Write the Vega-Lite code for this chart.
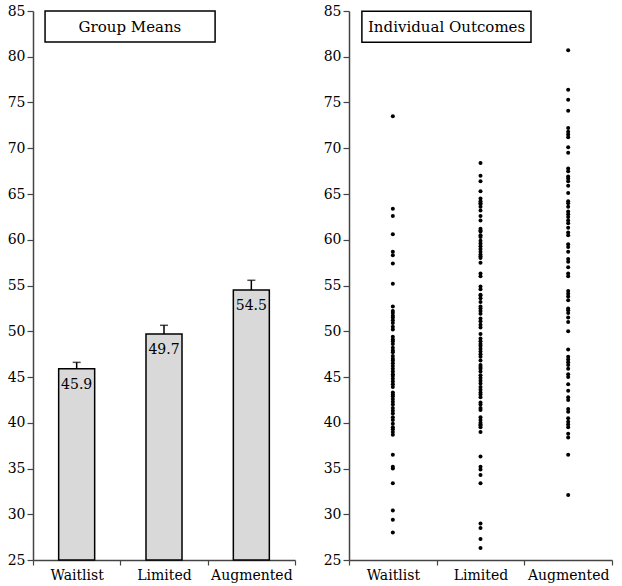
{
  "$schema": "https://vega.github.io/schema/vega-lite/v6.json",
  "padding": {"left": 7, "top": 4, "right": 5, "bottom": 5},
  "background": "white",
  "spacing": 27,
  "config": {
    "font": "DejaVu Serif",
    "view": {"stroke": null},
    "text": {"font": "DejaVu Serif"},
    "axis": {"labelFont": "DejaVu Serif", "labelFontSize": 14, "labelColor": "black", "domainColor": "#444", "domainWidth": 1.5, "tickColor": "#444", "tickWidth": 1.2, "grid": false, "title": null},
    "axisX": {"tickSize": 5, "labelPadding": 3, "labelAngle": 0, "tickBand": "extent"},
    "axisY": {"tickSize": 6, "labelPadding": 2, "values": [25, 30, 35, 40, 45, 50, 55, 60, 65, 70, 75, 80, 85]}
  },
  "datasets": {
    "means": [
      {"group": "Waitlist", "mean": 45.9, "upper": 46.6},
      {"group": "Limited", "mean": 49.7, "upper": 50.65},
      {"group": "Augmented", "mean": 54.5, "upper": 55.57}
    ],
    "points": [
      {"group": "Waitlist", "score": 73.5}, {"group": "Waitlist", "score": 63.4}, {"group": "Waitlist", "score": 62.6}, {"group": "Waitlist", "score": 60.6}, {"group": "Waitlist", "score": 58.7}, {"group": "Waitlist", "score": 58.3}, {"group": "Waitlist", "score": 57.4}, {"group": "Waitlist", "score": 55.2},
      {"group": "Waitlist", "score": 52.7}, {"group": "Waitlist", "score": 52.2}, {"group": "Waitlist", "score": 52.0}, {"group": "Waitlist", "score": 51.7}, {"group": "Waitlist", "score": 51.5}, {"group": "Waitlist", "score": 51.2}, {"group": "Waitlist", "score": 50.9}, {"group": "Waitlist", "score": 50.5}, {"group": "Waitlist", "score": 50.2}, {"group": "Waitlist", "score": 49.4}, {"group": "Waitlist", "score": 49.1}, {"group": "Waitlist", "score": 48.9}, {"group": "Waitlist", "score": 48.6}, {"group": "Waitlist", "score": 48.2}, {"group": "Waitlist", "score": 47.9}, {"group": "Waitlist", "score": 47.7}, {"group": "Waitlist", "score": 47.3}, {"group": "Waitlist", "score": 47.0}, {"group": "Waitlist", "score": 46.8}, {"group": "Waitlist", "score": 46.5}, {"group": "Waitlist", "score": 46.2}, {"group": "Waitlist", "score": 45.9}, {"group": "Waitlist", "score": 45.6}, {"group": "Waitlist", "score": 45.3}, {"group": "Waitlist", "score": 45.1}, {"group": "Waitlist", "score": 44.8}, {"group": "Waitlist", "score": 44.5}, {"group": "Waitlist", "score": 44.2}, {"group": "Waitlist", "score": 43.9}, {"group": "Waitlist", "score": 43.3}, {"group": "Waitlist", "score": 43.1}, {"group": "Waitlist", "score": 42.9}, {"group": "Waitlist", "score": 42.6}, {"group": "Waitlist", "score": 42.3}, {"group": "Waitlist", "score": 42.0}, {"group": "Waitlist", "score": 41.6}, {"group": "Waitlist", "score": 41.3}, {"group": "Waitlist", "score": 41.0}, {"group": "Waitlist", "score": 40.6}, {"group": "Waitlist", "score": 40.3}, {"group": "Waitlist", "score": 39.9}, {"group": "Waitlist", "score": 39.5}, {"group": "Waitlist", "score": 39.3}, {"group": "Waitlist", "score": 39.0}, {"group": "Waitlist", "score": 38.7},
      {"group": "Waitlist", "score": 36.5}, {"group": "Waitlist", "score": 35.2}, {"group": "Waitlist", "score": 35.0}, {"group": "Waitlist", "score": 33.4}, {"group": "Waitlist", "score": 30.4}, {"group": "Waitlist", "score": 29.4}, {"group": "Waitlist", "score": 28.0},
      {"group": "Limited", "score": 68.4}, {"group": "Limited", "score": 67.0}, {"group": "Limited", "score": 66.4}, {"group": "Limited", "score": 65.3}, {"group": "Limited", "score": 64.5}, {"group": "Limited", "score": 64.2}, {"group": "Limited", "score": 64.0}, {"group": "Limited", "score": 63.9}, {"group": "Limited", "score": 63.6}, {"group": "Limited", "score": 63.2}, {"group": "Limited", "score": 62.6}, {"group": "Limited", "score": 62.1}, {"group": "Limited", "score": 61.2}, {"group": "Limited", "score": 61.0}, {"group": "Limited", "score": 60.9}, {"group": "Limited", "score": 60.5}, {"group": "Limited", "score": 60.3}, {"group": "Limited", "score": 59.9}, {"group": "Limited", "score": 59.6}, {"group": "Limited", "score": 59.3}, {"group": "Limited", "score": 59.0}, {"group": "Limited", "score": 58.7}, {"group": "Limited", "score": 58.4}, {"group": "Limited", "score": 58.2}, {"group": "Limited", "score": 58.0}, {"group": "Limited", "score": 57.5}, {"group": "Limited", "score": 56.3}, {"group": "Limited", "score": 56.0},
      {"group": "Limited", "score": 54.9}, {"group": "Limited", "score": 54.6}, {"group": "Limited", "score": 54.0}, {"group": "Limited", "score": 53.9}, {"group": "Limited", "score": 53.6}, {"group": "Limited", "score": 53.2}, {"group": "Limited", "score": 52.7}, {"group": "Limited", "score": 52.5}, {"group": "Limited", "score": 52.2}, {"group": "Limited", "score": 51.9}, {"group": "Limited", "score": 51.4}, {"group": "Limited", "score": 51.1}, {"group": "Limited", "score": 50.7}, {"group": "Limited", "score": 50.4}, {"group": "Limited", "score": 49.7}, {"group": "Limited", "score": 49.2}, {"group": "Limited", "score": 48.9}, {"group": "Limited", "score": 48.6}, {"group": "Limited", "score": 48.4}, {"group": "Limited", "score": 48.1}, {"group": "Limited", "score": 47.8}, {"group": "Limited", "score": 47.5}, {"group": "Limited", "score": 47.2}, {"group": "Limited", "score": 46.8}, {"group": "Limited", "score": 46.3}, {"group": "Limited", "score": 46.1}, {"group": "Limited", "score": 45.9}, {"group": "Limited", "score": 45.6}, {"group": "Limited", "score": 45.2}, {"group": "Limited", "score": 44.9}, {"group": "Limited", "score": 44.6}, {"group": "Limited", "score": 44.3}, {"group": "Limited", "score": 43.9}, {"group": "Limited", "score": 43.6}, {"group": "Limited", "score": 43.3}, {"group": "Limited", "score": 43.1}, {"group": "Limited", "score": 42.8}, {"group": "Limited", "score": 42.2}, {"group": "Limited", "score": 42.0}, {"group": "Limited", "score": 41.6}, {"group": "Limited", "score": 41.4}, {"group": "Limited", "score": 40.6}, {"group": "Limited", "score": 40.3}, {"group": "Limited", "score": 40.0}, {"group": "Limited", "score": 39.8}, {"group": "Limited", "score": 39.7}, {"group": "Limited", "score": 39.5}, {"group": "Limited", "score": 39.0},
      {"group": "Limited", "score": 36.3}, {"group": "Limited", "score": 35.2}, {"group": "Limited", "score": 34.9}, {"group": "Limited", "score": 34.3}, {"group": "Limited", "score": 33.4}, {"group": "Limited", "score": 29.0}, {"group": "Limited", "score": 28.5}, {"group": "Limited", "score": 27.3}, {"group": "Limited", "score": 26.3},
      {"group": "Augmented", "score": 80.7}, {"group": "Augmented", "score": 76.4}, {"group": "Augmented", "score": 75.3}, {"group": "Augmented", "score": 74.1}, {"group": "Augmented", "score": 72.2}, {"group": "Augmented", "score": 71.8}, {"group": "Augmented", "score": 71.5}, {"group": "Augmented", "score": 71.2}, {"group": "Augmented", "score": 70.1}, {"group": "Augmented", "score": 69.5}, {"group": "Augmented", "score": 67.8}, {"group": "Augmented", "score": 67.5}, {"group": "Augmented", "score": 66.9}, {"group": "Augmented", "score": 66.7}, {"group": "Augmented", "score": 66.4}, {"group": "Augmented", "score": 65.9}, {"group": "Augmented", "score": 65.1}, {"group": "Augmented", "score": 64.2}, {"group": "Augmented", "score": 64.0}, {"group": "Augmented", "score": 63.6}, {"group": "Augmented", "score": 63.1}, {"group": "Augmented", "score": 62.8}, {"group": "Augmented", "score": 62.5}, {"group": "Augmented", "score": 62.1}, {"group": "Augmented", "score": 61.8}, {"group": "Augmented", "score": 61.3}, {"group": "Augmented", "score": 60.8}, {"group": "Augmented", "score": 60.5}, {"group": "Augmented", "score": 59.5}, {"group": "Augmented", "score": 59.2}, {"group": "Augmented", "score": 58.7}, {"group": "Augmented", "score": 57.9}, {"group": "Augmented", "score": 57.6}, {"group": "Augmented", "score": 57.0}, {"group": "Augmented", "score": 56.3}, {"group": "Augmented", "score": 56.0},
      {"group": "Augmented", "score": 54.4}, {"group": "Augmented", "score": 54.1}, {"group": "Augmented", "score": 53.8}, {"group": "Augmented", "score": 53.4}, {"group": "Augmented", "score": 52.5}, {"group": "Augmented", "score": 52.3}, {"group": "Augmented", "score": 52.0}, {"group": "Augmented", "score": 51.5}, {"group": "Augmented", "score": 51.0}, {"group": "Augmented", "score": 50.0}, {"group": "Augmented", "score": 48.0}, {"group": "Augmented", "score": 47.2}, {"group": "Augmented", "score": 46.9}, {"group": "Augmented", "score": 46.6}, {"group": "Augmented", "score": 46.3}, {"group": "Augmented", "score": 45.9}, {"group": "Augmented", "score": 45.3}, {"group": "Augmented", "score": 45.0}, {"group": "Augmented", "score": 44.2}, {"group": "Augmented", "score": 43.5}, {"group": "Augmented", "score": 42.8}, {"group": "Augmented", "score": 42.5}, {"group": "Augmented", "score": 41.5}, {"group": "Augmented", "score": 41.2}, {"group": "Augmented", "score": 40.5}, {"group": "Augmented", "score": 40.1}, {"group": "Augmented", "score": 39.8}, {"group": "Augmented", "score": 39.5}, {"group": "Augmented", "score": 38.8}, {"group": "Augmented", "score": 38.4}, {"group": "Augmented", "score": 36.5}, {"group": "Augmented", "score": 32.1}
    ]
  },
  "hconcat": [
    {
      "width": 262,
      "height": 549,
      "layer": [
        {
          "data": {"name": "means"},
          "encoding": {
            "x": {"field": "group", "type": "nominal", "sort": ["Waitlist", "Limited", "Augmented"], "scale": {"type": "band", "paddingInner": 0, "paddingOuter": 0}, "title": null},
            "y": {"field": "mean", "type": "quantitative", "scale": {"domain": [25, 85], "nice": false, "zero": false}, "title": null}
          },
          "layer": [
            {"mark": {"type": "bar", "size": 36, "fill": "#d9d9d9", "stroke": "black", "strokeWidth": 1.5}, "encoding": {"y2": {"datum": 25}}},
            {"mark": {"type": "rule", "color": "black", "strokeWidth": 1.5}, "encoding": {"y2": {"field": "upper"}}},
            {"mark": {"type": "tick", "color": "black", "size": 8, "thickness": 1.5}, "encoding": {"y": {"field": "upper", "type": "quantitative"}}},
            {"mark": {"type": "text", "baseline": "top", "dy": 9, "fontSize": 14, "font": "DejaVu Serif", "color": "black"}, "encoding": {"text": {"field": "mean", "type": "quantitative", "format": ".1f"}}}
          ]
        },
        {
          "data": {"values": [{}]},
          "layer": [
            {"mark": {"type": "rect", "fill": "white", "stroke": "black", "strokeWidth": 1.5},
             "encoding": {
               "x": {"datum": 0.046, "type": "quantitative", "scale": {"domain": [0, 1]}, "axis": null},
               "x2": {"datum": 0.695},
               "y": {"datum": 85, "type": "quantitative"},
               "y2": {"datum": 81.6}
             }},
            {"mark": {"type": "text", "fontSize": 15, "font": "DejaVu Serif", "color": "black", "baseline": "middle", "align": "center"},
             "encoding": {
               "x": {"datum": 0.37, "type": "quantitative", "scale": {"domain": [0, 1]}, "axis": null},
               "y": {"datum": 83.3, "type": "quantitative"},
               "text": {"value": "Group Means"}
             }}
          ]
        }
      ],
      "resolve": {"scale": {"x": "independent"}}
    },
    {
      "width": 263,
      "height": 549,
      "layer": [
        {
          "data": {"name": "points"},
          "mark": {"type": "circle", "size": 16, "color": "black", "opacity": 1},
          "encoding": {
            "x": {"field": "group", "type": "nominal", "sort": ["Waitlist", "Limited", "Augmented"], "scale": {"type": "band", "paddingInner": 0, "paddingOuter": 0}, "title": null},
            "y": {"field": "score", "type": "quantitative", "scale": {"domain": [25, 85], "nice": false, "zero": false}, "title": null}
          }
        },
        {
          "data": {"values": [{}]},
          "layer": [
            {"mark": {"type": "rect", "fill": "white", "stroke": "black", "strokeWidth": 1.5},
             "encoding": {
               "x": {"datum": 0.049, "type": "quantitative", "scale": {"domain": [0, 1]}, "axis": null},
               "x2": {"datum": 0.692},
               "y": {"datum": 84.97, "type": "quantitative"},
               "y2": {"datum": 81.58}
             }},
            {"mark": {"type": "text", "fontSize": 15, "font": "DejaVu Serif", "color": "black", "baseline": "middle", "align": "center"},
             "encoding": {
               "x": {"datum": 0.371, "type": "quantitative", "scale": {"domain": [0, 1]}, "axis": null},
               "y": {"datum": 83.3, "type": "quantitative"},
               "text": {"value": "Individual Outcomes"}
             }}
          ]
        }
      ],
      "resolve": {"scale": {"x": "independent"}}
    }
  ]
}
